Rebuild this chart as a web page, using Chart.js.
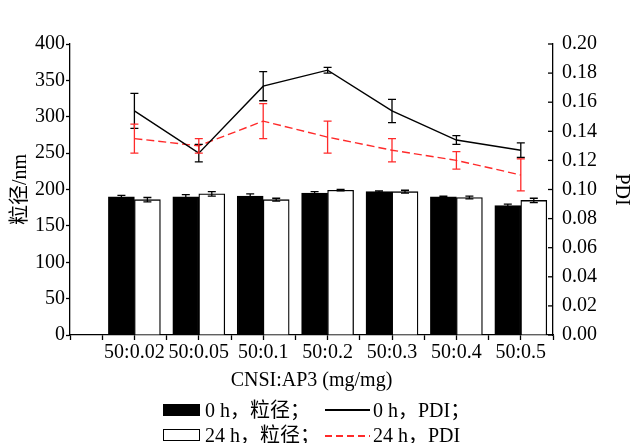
<!DOCTYPE html>
<html>
<head>
<meta charset="utf-8">
<title>粒径与PDI</title>
<script src="https://cdn.jsdelivr.net/npm/chart.js"></script>
<style>
  body { margin: 0; background: #fff; }
  #wrap { position: relative; width: 630px; height: 443px; }
  .lg { position: absolute; font: 20px "Liberation Serif", "Noto Sans CJK SC", serif; color: #000; line-height: 20px; white-space: nowrap; }
  .sw { position: absolute; box-sizing: border-box; }
</style>
</head>
<body>
<div id="wrap">
  <canvas id="chart" width="630" height="443"></canvas>
  <div class="sw" style="left:163px;top:404px;width:37px;height:12px;background:#000;"></div>
  <div class="lg" style="left:205px;top:400px;">0 h，粒径；</div>
  <div class="sw" style="left:325px;top:409px;width:45px;height:1.5px;background:#000;"></div>
  <div class="lg" style="left:373px;top:400px;">0 h，PDI；</div>
  <div class="sw" style="left:163px;top:429px;width:37px;height:12px;background:#fff;border:1.5px solid #000;"></div>
  <div class="lg" style="left:205px;top:425px;">24 h，粒径；</div>
  <div class="sw" style="left:325px;top:435px;width:45px;height:1.5px;background:repeating-linear-gradient(to right,#ff2a2a 0 7px,transparent 7px 11px);"></div>
  <div class="lg" style="left:373px;top:425px;">24 h，PDI</div>
</div>
<script>
const ratios = ["50:0.02", "50:0.05", "50:0.1", "50:0.2", "50:0.3", "50:0.4", "50:0.5"];
const size0h = [190, 190, 191, 195, 197, 190, 178];
const size0hErr = [2, 3, 3, 2, 1, 1, 2];
const size24h = [186, 194, 186, 199, 197, 189, 185];
const size24hErr = [3, 3, 2, 1, 2, 2, 3];
const pdi0h = [0.154, 0.125, 0.171, 0.182, 0.154, 0.134, 0.127];
const pdi0hErr = [0.012, 0.006, 0.010, 0.002, 0.008, 0.003, 0.005];
const pdi24h = [0.135, 0.130, 0.147, 0.136, 0.127, 0.120, 0.110];
const pdi24hErr = [0.010, 0.005, 0.012, 0.011, 0.008, 0.006, 0.011];

const font = { family: "'Liberation Serif', 'Noto Sans CJK SC', serif", size: 20 };
const toPoints = (vals) => vals.map((v, i) => ({ x: i + 1, y: v }));

// error bars drawn from each dataset's own errors, through its y scale
const errorBars = {
  id: "errorBars",
  afterDatasetsDraw(chart) {
    const ctx = chart.ctx;
    chart.data.datasets.forEach((ds, di) => {
      if (!ds.errors) return;
      const meta = chart.getDatasetMeta(di);
      const yScale = chart.scales[ds.yAxisID];
      ctx.save();
      ctx.strokeStyle = ds.errorColor;
      ctx.lineWidth = 1.3;
      meta.data.forEach((el, i) => {
        const v = ds.data[i].y;
        const top = yScale.getPixelForValue(v + ds.errors[i]);
        const bottom = yScale.getPixelForValue(v - ds.errors[i]);
        ctx.beginPath();
        ctx.moveTo(el.x, top);
        ctx.lineTo(el.x, bottom);
        ctx.moveTo(el.x - 4, top);
        ctx.lineTo(el.x + 4, top);
        ctx.moveTo(el.x - 4, bottom);
        ctx.lineTo(el.x + 4, bottom);
        ctx.stroke();
      });
      ctx.restore();
    });
  },
};

// the right axis has its tick marks pointing inward
const innerTicks = {
  id: "innerTicks",
  afterDraw(chart) {
    const s = chart.scales.y1;
    const ctx = chart.ctx;
    ctx.save();
    ctx.strokeStyle = "#000";
    ctx.lineWidth = 1.3;
    s.ticks.forEach((t) => {
      const y = s.getPixelForValue(t.value);
      ctx.beginPath();
      ctx.moveTo(s.left - 5, y);
      ctx.lineTo(s.left, y);
      ctx.stroke();
    });
    ctx.restore();
  },
};

new Chart(document.getElementById("chart").getContext("2d"), {
  type: "bar",
  data: {
    datasets: [
      {
        type: "line",
        data: toPoints(pdi0h),
        errors: pdi0hErr,
        errorColor: "#000",
        yAxisID: "y1",
        borderColor: "#000",
        borderWidth: 1.4,
        pointRadius: 0,
        order: 0,
      },
      {
        type: "line",
        data: toPoints(pdi24h),
        errors: pdi24hErr,
        errorColor: "#ff2a2a",
        yAxisID: "y1",
        borderColor: "#ff2a2a",
        borderWidth: 1.4,
        borderDash: [8, 4],
        pointRadius: 0,
        order: 0,
      },
      {
        data: toPoints(size0h),
        errors: size0hErr,
        errorColor: "#000",
        yAxisID: "y",
        backgroundColor: "#000",
        borderColor: "#000",
        borderWidth: 1.3,
        barThickness: 26,
        order: 1,
      },
      {
        data: toPoints(size24h),
        errors: size24hErr,
        errorColor: "#000",
        yAxisID: "y",
        backgroundColor: "#fff",
        borderColor: "#000",
        borderWidth: 1.3,
        barThickness: 26,
        order: 1,
      },
    ],
  },
  options: {
    responsive: false,
    animation: false,
    layout: { padding: { top: 44, bottom: 46 } },
    plugins: { legend: { display: false }, tooltip: { enabled: false } },
    scales: {
      x: {
        type: "linear",
        offset: false,
        min: 0,
        max: 7.5,
        afterFit: (s) => { s.height = 62; },
        grid: { drawOnChartArea: false, offset: false, tickLength: 5, tickColor: "#000", tickWidth: 1.3 },
        border: { color: "#000", width: 1.3 },
        ticks: {
          stepSize: 0.5,
          autoSkip: false,
          maxRotation: 0,
          padding: 1,
          color: "#000",
          font,
          callback: (v) => (Number.isInteger(v) && v > 0 ? ratios[v - 1] : ""),
        },
        title: { display: true, text: "CNSI:AP3 (mg/mg)", color: "#000", font, padding: { top: 4, bottom: 4 } },
      },
      y: {
        position: "left",
        min: 0,
        max: 400,
        afterFit: (s) => { s.width = 70; },
        grid: { drawOnChartArea: false, tickLength: 4, tickColor: "#000", tickWidth: 1.3 },
        border: { color: "#000", width: 1.3 },
        ticks: { stepSize: 50, padding: 1, color: "#000", font },
        title: { display: true, text: "粒径/nm", color: "#000", font, padding: { top: 9, bottom: 0 } },
      },
      y1: {
        position: "right",
        min: 0,
        max: 0.2,
        afterFit: (s) => { s.width = 77; },
        grid: { drawOnChartArea: false, drawTicks: false },
        border: { color: "#000", width: 1.3 },
        ticks: { stepSize: 0.02, padding: 9, color: "#000", font, callback: (v) => v.toFixed(2) },
        title: { display: true, text: "PDI", color: "#000", font, padding: { top: -3, bottom: 0 } },
      },
    },
  },
  plugins: [errorBars, innerTicks],
});
</script>
</body>
</html>
